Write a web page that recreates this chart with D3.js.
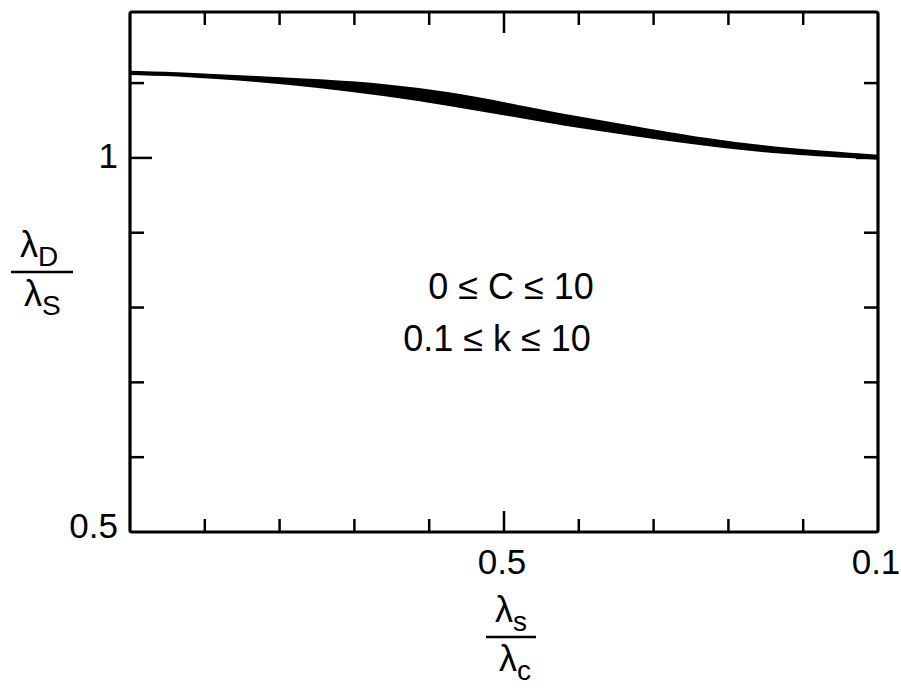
<!DOCTYPE html>
<html>
<head>
<meta charset="utf-8">
<script src="https://cdn.jsdelivr.net/npm/d3@7"></script>
<style>
body { margin:0; background:#fff; }
text { font-family: "Liberation Sans", Arial, sans-serif; fill:#000; }
</style>
</head>
<body>
<div id="chart"></div>
<script>
// band of lambda_D/lambda_S values
var ratioSC = [0.9, 0.841, 0.763, 0.697, 0.627, 0.558, 0.494, 0.440, 0.355, 0.290, 0.205, 0.1];
var upperD = [1.115, 1.113, 1.108, 1.104, 1.098, 1.087, 1.072, 1.058, 1.040, 1.026, 1.012, 1.003];
var lowerD = [1.112, 1.110, 1.103, 1.095, 1.084, 1.071, 1.057, 1.045, 1.029, 1.018, 1.006, 0.999];

var xTicks = [0.9, 0.82, 0.74, 0.66, 0.58, 0.5, 0.42, 0.34, 0.26, 0.18, 0.1];
var yTicks = [0.5, 0.6, 0.7, 0.8, 0.9, 1.0, 1.1];
var xLabels = ["0.5", "0.1"];
var yLabels = ["0.5", "1"];

var w = 901, h = 690;
var margins = {top:12, left:130, right:23, bottom:158};
var x = d3.scaleLinear().domain([0.9, 0.1]).range([margins.left, w - margins.right]);
var y = d3.scaleLinear().domain([0.5, 1.195]).range([h - margins.bottom, margins.top]);

var svg = d3.select("#chart").append("svg")
  .attr("width", w)
  .attr("height", h);

var band = ratioSC.map(function(d, i){ return {x:d, hi:upperD[i], lo:lowerD[i]}; });

var area = d3.area()
  .x(function(d){ return x(d.x); })
  .y0(function(d){ return y(d.lo); })
  .y1(function(d){ return y(d.hi); })
  .curve(d3.curveBasis);

svg.append("path")
  .datum(band)
  .attr("d", area)
  .attr("fill", "#000")
  .attr("stroke", "#000")
  .attr("stroke-width", 2)
  .attr("stroke-linejoin", "round");

// frame
svg.append("rect")
  .attr("x", x(0.9))
  .attr("y", y(1.195))
  .attr("width", x(0.1) - x(0.9))
  .attr("height", y(0.5) - y(1.195))
  .attr("fill", "none")
  .attr("stroke", "#000")
  .attr("stroke-width", 3.2)
  .attr("rx", 2);

var isXLab = function(d){ return Math.abs(d - 0.5) < 1e-6; };
var isYLab = function(d){ return Math.abs(d - 1) < 1e-6; };

// x ticks, bottom and top, pointing inward
var xt = xTicks.filter(function(d){ return d !== 0.9 && d !== 0.1; });
svg.selectAll(".xtb").data(xt).enter().append("line")
  .attr("x1", function(d){ return x(d); }).attr("x2", function(d){ return x(d); })
  .attr("y1", y(0.5)).attr("y2", function(d){ return y(0.5) - (isXLab(d) ? 21 : 13); })
  .attr("stroke", "#000").attr("stroke-width", 2.5);
svg.selectAll(".xtt").data(xt).enter().append("line")
  .attr("x1", function(d){ return x(d); }).attr("x2", function(d){ return x(d); })
  .attr("y1", y(1.195)).attr("y2", function(d){ return y(1.195) + (isXLab(d) ? 21 : 13); })
  .attr("stroke", "#000").attr("stroke-width", 2.5);

// y ticks, left and right
var yt = yTicks.filter(function(d){ return d !== 0.5; });
svg.selectAll(".ytl").data(yt).enter().append("line")
  .attr("y1", function(d){ return y(d); }).attr("y2", function(d){ return y(d); })
  .attr("x1", x(0.9)).attr("x2", function(d){ return x(0.9) + (isYLab(d) ? 22 : 14); })
  .attr("stroke", "#000").attr("stroke-width", 2.5);
svg.selectAll(".ytr").data(yt).enter().append("line")
  .attr("y1", function(d){ return y(d); }).attr("y2", function(d){ return y(d); })
  .attr("x1", x(0.1)).attr("x2", function(d){ return x(0.1) - (isYLab(d) ? 22 : 14); })
  .attr("stroke", "#000").attr("stroke-width", 2.5);

// tick labels
svg.selectAll(".xl").data([0.5, 0.1]).enter().append("text")
  .attr("x", function(d){ return x(d) - 2; })
  .attr("y", y(0.5) + 42)
  .attr("text-anchor", "middle")
  .attr("font-size", 35)
  .text(function(d, i){ return xLabels[i]; });

svg.selectAll(".yl").data([0.5, 1]).enter().append("text")
  .attr("x", x(0.9) - 12)
  .attr("y", function(d, i){ return y(d) + (i ? 10 : 6); })
  .attr("text-anchor", "end")
  .attr("font-size", 35)
  .text(function(d, i){ return yLabels[i]; });

// fraction labels
var frac = function(cx, cy, top, topSub, bot, botSub, half){
  var g = svg.append("g").attr("transform", "translate(" + cx + "," + cy + ")");
  g.append("line").attr("x1", -half).attr("x2", half).attr("y1", 0).attr("y2", 0)
    .attr("stroke", "#000").attr("stroke-width", 2.5);
  var t = g.append("text").attr("x", -half + 9).attr("y", -15).attr("font-size", 36);
  t.append("tspan").text(top);
  t.append("tspan").attr("dy", 9).attr("font-size", 28).text(topSub);
  var b = g.append("text").attr("x", -half + 13).attr("y", 34).attr("font-size", 36);
  b.append("tspan").text(bot);
  b.append("tspan").attr("dy", 9).attr("font-size", 28).text(botSub);
};
frac(42, 272, "λ", "D", "λ", "S", 31);
frac(511, 637, "λ", "s", "λ", "c", 25);

// annotations
svg.append("text")
  .attr("x", 511).attr("y", 299)
  .attr("text-anchor", "middle")
  .attr("font-size", 36)
  .text("0 ≤ C ≤ 10");
svg.append("text")
  .attr("x", 497).attr("y", 351)
  .attr("text-anchor", "middle")
  .attr("font-size", 36)
  .text("0.1 ≤ k ≤ 10");
</script>
</body>
</html>
